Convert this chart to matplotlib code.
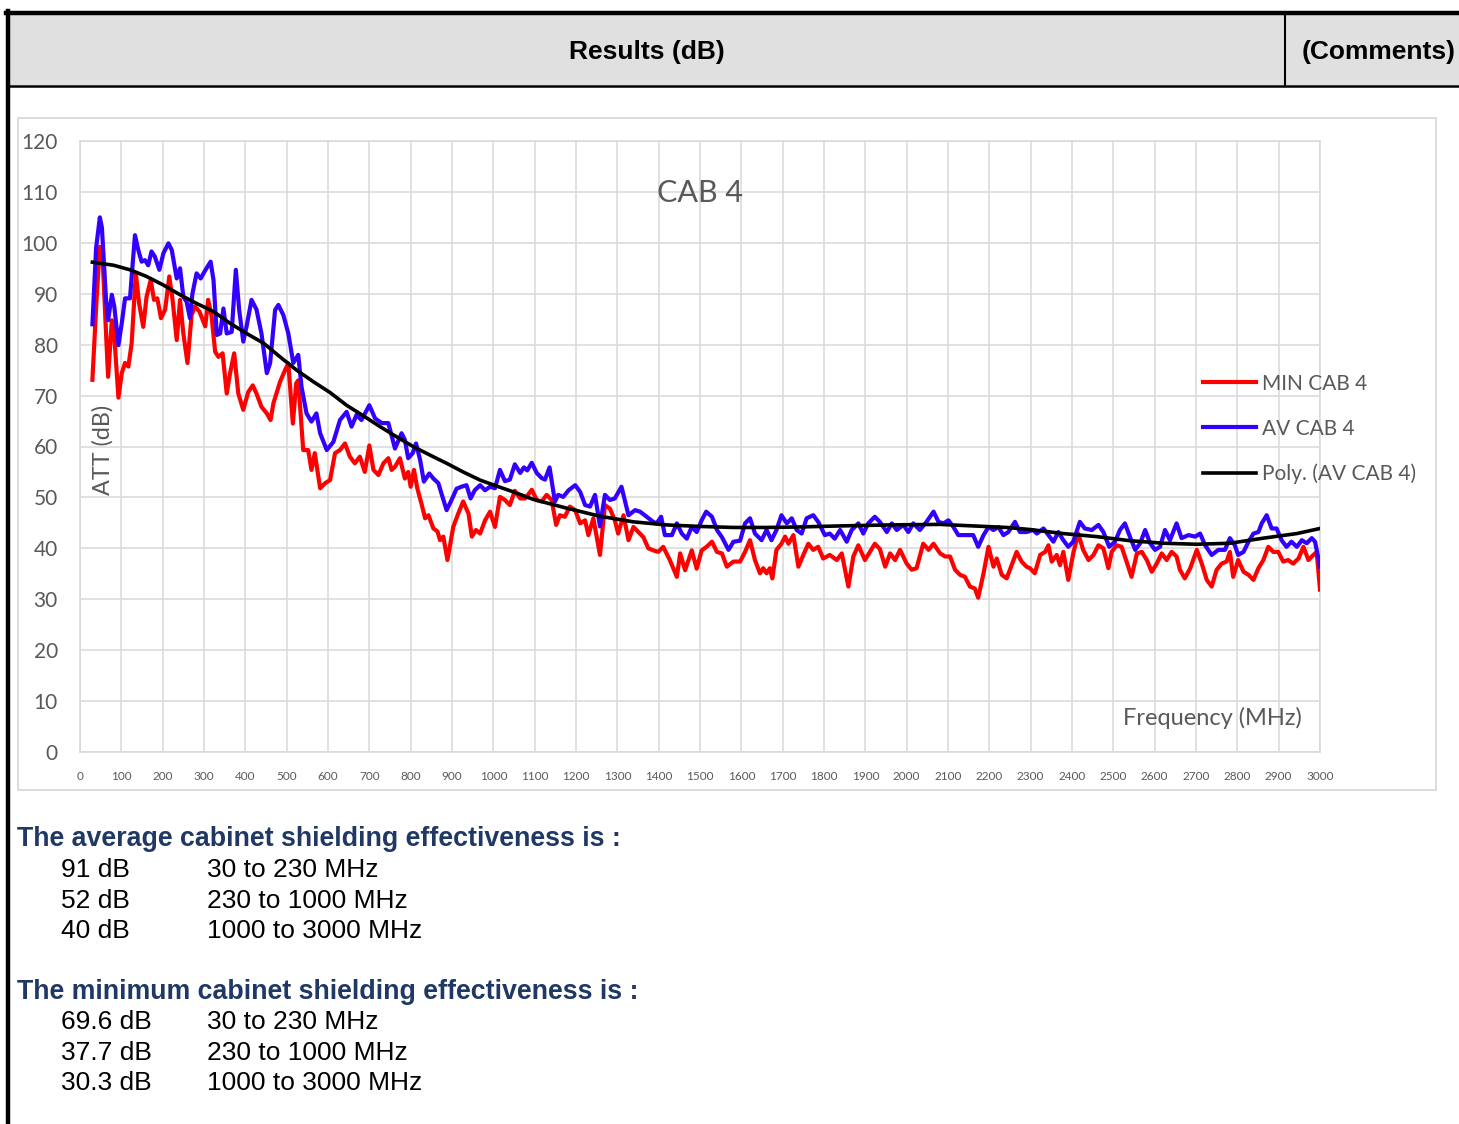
"""CAB 4 shielding effectiveness chart, recreated as a report page fragment."""
import matplotlib
matplotlib.use("Agg")
import matplotlib.pyplot as plt
from matplotlib.lines import Line2D
from matplotlib.patches import Rectangle

W, H = 1459, 1124

# AV CAB 4 (blue) - frequency (MHz) / attenuation (dB)
av_freq = [30, 39, 48, 53, 63, 68, 77, 83, 93, 101, 109, 121, 125, 133, 141, 149, 157, 165, 173, 181,
           192, 202, 214, 222, 234, 242, 250, 258, 266, 272, 282, 292, 303, 316, 323, 331, 339, 347, 355, 367,
           377, 385, 395, 403, 415, 427, 439, 452, 460, 472, 480, 492, 504, 516, 528, 536, 548, 560, 572, 581,
           597, 613, 629, 645, 657, 669, 681, 700, 714, 730, 746, 762, 778, 786, 794, 805, 813, 823, 832, 845,
           855, 867, 877, 887, 899, 911, 923, 935, 945, 955, 968, 980, 992, 1004, 1016, 1028, 1040, 1052, 1065, 1074,
           1082, 1093, 1105, 1117, 1125, 1136, 1149, 1157, 1169, 1182, 1198, 1210, 1222, 1234, 1246, 1258, 1270, 1282, 1294, 1310,
           1327, 1343, 1355, 1371, 1387, 1395, 1406, 1415, 1432, 1444, 1456, 1468, 1480, 1492, 1504, 1515, 1529, 1541, 1553, 1569,
           1581, 1597, 1609, 1621, 1633, 1649, 1661, 1673, 1685, 1697, 1710, 1722, 1734, 1746, 1758, 1774, 1786, 1802, 1814, 1826,
           1839, 1855, 1867, 1883, 1895, 1907, 1923, 1935, 1952, 1964, 1976, 1992, 2004, 2016, 2032, 2048, 2065, 2077, 2089, 2101,
           2113, 2125, 2145, 2161, 2173, 2186, 2198, 2210, 2222, 2234, 2246, 2262, 2274, 2290, 2306, 2315, 2331, 2343, 2355, 2367,
           2379, 2391, 2403, 2419, 2431, 2448, 2464, 2476, 2490, 2504, 2516, 2528, 2540, 2553, 2565, 2577, 2589, 2601, 2613, 2625,
           2637, 2653, 2665, 2682, 2698, 2710, 2722, 2738, 2754, 2770, 2782, 2794, 2802, 2815, 2827, 2839, 2851, 2859, 2871, 2883,
           2895, 2907, 2919, 2931, 2944, 2956, 2968, 2980, 2988, 3000]
av_db = [84.0, 99.0, 105.0, 103.0, 88.8, 84.8, 89.8, 87.5, 79.9, 84.2, 89.1, 89.1, 93.4, 101.5, 98.6, 96.3, 96.6, 95.6, 98.3, 97.3,
         94.7, 98.0, 99.9, 98.6, 93.0, 95.0, 89.4, 88.4, 85.2, 90.0, 94.0, 93.0, 94.6, 96.3, 92.7, 81.9, 82.2, 87.1, 82.2, 82.5,
         94.7, 86.9, 80.6, 83.6, 88.8, 86.9, 82.2, 74.4, 76.4, 86.8, 87.8, 85.8, 82.2, 76.4, 78.0, 71.7, 66.5, 64.9, 66.5, 62.6,
         59.3, 60.9, 65.2, 66.8, 63.9, 66.2, 65.2, 68.1, 65.5, 64.6, 64.6, 59.6, 62.6, 61.3, 57.7, 58.7, 60.6, 57.3, 53.1, 54.7,
         53.7, 52.8, 50.1, 47.5, 49.5, 51.7, 52.1, 52.4, 49.8, 51.4, 52.4, 51.4, 52.1, 51.8, 55.4, 53.2, 53.5, 56.5, 54.8, 55.9,
         55.3, 56.8, 54.8, 53.8, 53.5, 55.9, 49.2, 50.5, 50.1, 51.4, 52.4, 51.1, 48.5, 48.2, 50.5, 44.3, 50.5, 49.5, 49.8, 52.1,
         46.5, 47.5, 47.2, 46.2, 45.2, 44.9, 46.2, 42.6, 42.6, 44.9, 42.9, 41.9, 44.2, 43.2, 45.5, 47.2, 46.2, 43.6, 42.2, 39.7,
         41.3, 41.5, 44.9, 45.9, 42.9, 41.6, 43.6, 41.6, 43.6, 46.5, 44.9, 45.9, 43.6, 42.9, 45.9, 46.5, 45.2, 42.6, 42.9, 41.9,
         43.6, 41.3, 43.6, 44.9, 42.9, 44.9, 46.2, 45.2, 43.2, 44.9, 43.6, 44.6, 43.2, 44.9, 43.6, 45.2, 47.2, 45.2, 44.9, 45.5,
         44.2, 42.6, 42.6, 42.6, 40.3, 42.6, 44.2, 43.6, 44.2, 42.6, 43.2, 45.2, 43.2, 43.2, 43.6, 42.9, 43.9, 42.6, 41.3, 43.2,
         41.6, 40.3, 41.3, 45.2, 43.9, 43.6, 44.6, 43.2, 40.3, 41.3, 43.6, 44.9, 42.3, 39.7, 41.0, 43.6, 41.0, 39.7, 40.3, 43.6,
         41.6, 44.9, 42.0, 42.6, 42.3, 42.9, 40.6, 38.7, 39.7, 39.7, 42.0, 40.6, 38.7, 39.3, 41.3, 42.9, 43.2, 44.9, 46.5, 43.9,
         43.9, 41.6, 40.3, 41.3, 40.3, 41.6, 41.0, 42.0, 41.3, 36.4]

# MIN CAB 4 (red)
min_freq = [30, 40, 48, 55, 63, 68, 77, 83, 93, 101, 109, 117, 125, 135, 143, 153, 161, 171, 179, 187,
            196, 206, 216, 224, 234, 242, 250, 260, 270, 278, 289, 303, 310, 318, 327, 335, 345, 355, 363, 373,
            383, 395, 407, 418, 427, 439, 452, 461, 468, 484, 496, 504, 515, 523, 528, 540, 552, 560, 568, 581,
            593, 605, 617, 629, 641, 653, 665, 677, 689, 700, 710, 722, 734, 746, 754, 762, 774, 786, 794, 800,
            808, 816, 826, 835, 843, 855, 865, 871, 879, 889, 896, 903, 915, 927, 940, 948, 958, 968, 980, 992,
            1004, 1016, 1028, 1040, 1052, 1065, 1077, 1093, 1105, 1117, 1129, 1141, 1152, 1161, 1173, 1185, 1198, 1210, 1222, 1230,
            1242, 1258, 1270, 1282, 1294, 1302, 1315, 1327, 1339, 1351, 1363, 1375, 1387, 1399, 1411, 1427, 1444, 1452, 1464, 1480,
            1492, 1504, 1516, 1529, 1541, 1553, 1565, 1581, 1597, 1609, 1621, 1633, 1645, 1653, 1661, 1669, 1675, 1685, 1697, 1706,
            1714, 1726, 1738, 1750, 1762, 1774, 1786, 1798, 1814, 1831, 1843, 1859, 1871, 1883, 1899, 1911, 1923, 1935, 1948, 1960,
            1972, 1984, 2000, 2012, 2024, 2040, 2053, 2065, 2081, 2093, 2105, 2117, 2129, 2141, 2153, 2165, 2173, 2186, 2198, 2210,
            2218, 2230, 2242, 2254, 2266, 2278, 2290, 2298, 2310, 2323, 2335, 2343, 2351, 2363, 2371, 2379, 2391, 2403, 2415, 2427,
            2440, 2452, 2464, 2476, 2488, 2496, 2508, 2520, 2532, 2544, 2557, 2569, 2581, 2593, 2605, 2617, 2629, 2641, 2653, 2661,
            2673, 2686, 2702, 2714, 2726, 2738, 2750, 2762, 2774, 2782, 2790, 2802, 2815, 2827, 2839, 2851, 2863, 2875, 2887, 2899,
            2911, 2923, 2935, 2948, 2960, 2972, 2984, 2992, 3000]
min_db = [73.1, 88.8, 99.2, 96.6, 82.2, 73.7, 84.8, 81.6, 69.6, 74.4, 76.4, 75.7, 80.3, 94.0, 88.1, 83.5, 89.4, 92.7, 88.8, 89.1,
          85.2, 86.9, 93.4, 88.8, 80.9, 88.8, 82.2, 76.4, 85.8, 87.5, 86.5, 83.6, 88.8, 85.8, 78.6, 77.6, 78.3, 70.4, 74.4, 78.3,
          70.4, 67.2, 70.7, 72.0, 70.4, 67.8, 66.5, 65.2, 68.5, 72.7, 75.0, 76.3, 64.5, 72.4, 73.0, 59.3, 59.3, 55.4, 58.7, 51.8,
          52.8, 53.4, 58.7, 59.3, 60.6, 58.0, 56.7, 58.0, 55.0, 60.2, 55.4, 54.4, 56.7, 57.7, 55.4, 56.0, 57.7, 53.7, 55.0, 52.1,
          55.4, 51.8, 48.8, 45.9, 46.5, 43.9, 43.3, 41.6, 42.3, 37.7, 41.0, 44.2, 46.8, 49.2, 46.8, 42.3, 43.6, 42.9, 45.5, 47.2,
          44.2, 50.1, 49.5, 48.5, 51.3, 49.8, 49.8, 51.5, 49.5, 49.2, 50.5, 49.5, 44.6, 46.5, 46.2, 48.2, 47.5, 44.9, 45.5, 42.6,
          45.9, 38.7, 48.5, 47.8, 45.5, 42.9, 46.5, 41.6, 44.2, 43.2, 42.2, 40.0, 39.6, 39.3, 40.3, 37.7, 34.4, 39.0, 35.7, 39.6,
          36.0, 39.6, 40.3, 41.3, 39.3, 39.0, 36.4, 37.4, 37.4, 39.3, 41.6, 37.7, 35.1, 36.1, 35.1, 36.1, 34.1, 39.7, 40.9, 42.3,
          40.9, 42.6, 36.4, 38.7, 40.9, 39.7, 40.3, 38.0, 38.7, 37.7, 39.0, 32.5, 38.4, 40.6, 37.7, 39.3, 40.9, 39.9, 36.4, 39.0,
          37.7, 39.7, 37.0, 35.8, 36.1, 40.9, 39.7, 40.9, 39.0, 38.4, 38.4, 35.8, 34.8, 34.4, 32.5, 32.1, 30.3, 35.1, 40.3, 36.4,
          38.0, 34.8, 34.1, 36.7, 39.3, 37.4, 36.4, 36.1, 35.1, 38.7, 39.3, 40.6, 37.4, 38.7, 36.7, 39.3, 33.8, 39.0, 42.9, 39.7,
          37.7, 38.7, 40.6, 40.0, 36.1, 39.3, 40.6, 40.3, 37.4, 34.4, 39.0, 39.3, 37.7, 35.4, 37.0, 39.0, 37.7, 39.3, 38.4, 35.8,
          34.1, 36.1, 39.7, 37.0, 33.8, 32.5, 35.8, 37.0, 37.4, 39.3, 34.4, 37.7, 35.4, 34.8, 33.8, 36.1, 37.7, 40.3, 39.3, 39.3,
          37.4, 37.7, 37.0, 38.0, 40.3, 37.7, 38.7, 39.3, 31.9]

# Poly. (AV CAB 4) trend line
poly_freq = [30, 81, 121, 161, 202, 242, 282, 323, 363, 403, 444, 484, 524, 565, 605, 645, 686, 726, 766, 806,
             847, 887, 927, 968, 1016, 1048, 1097, 1177, 1258, 1339, 1419, 1500, 1581, 1661, 1742, 1839, 1960, 2081, 2161, 2242,
             2298, 2379, 2460, 2540, 2621, 2702, 2782, 2863, 2944, 3000]
poly_db = [96.2, 95.6, 94.7, 93.4, 91.7, 89.8, 88.1, 86.5, 84.2, 82.2, 80.3, 77.6, 75.0, 72.7, 70.6, 68.1, 66.0, 63.9, 61.9, 60.0,
           58.3, 56.7, 55.0, 53.4, 52.0, 51.1, 49.6, 47.9, 46.3, 45.2, 44.6, 44.3, 44.1, 44.1, 44.2, 44.4, 44.6, 44.7, 44.4, 44.1,
           43.7, 42.9, 42.3, 41.5, 41.0, 40.8, 41.0, 42.0, 42.9, 43.9]

series_labels = ["MIN CAB 4", "AV CAB 4", "Poly. (AV CAB 4)"]
x_ticks = list(range(0, 3001, 100))
y_ticks = list(range(0, 121, 10))

avg_rows = [("91 dB", "30 to 230 MHz"), ("52 dB", "230 to 1000 MHz"), ("40 dB", "1000 to 3000 MHz")]
min_rows = [("69.6 dB", "30 to 230 MHz"), ("37.7 dB", "230 to 1000 MHz"), ("30.3 dB", "1000 to 3000 MHz")]

RED = "#ff0000"
BLUE = "#3300ff"
GRID = "#d9d9d9"
TXT = "#595959"
NAVY = "#1f3864"
CHART_FONT = ["Lato", "DejaVu Sans"]
DOC_FONT = ["Liberation Sans", "DejaVu Sans"]


def fx(x):
    return x / W


def fy(y):
    return 1 - y / H


fig = plt.figure(figsize=(W / 100, H / 100), dpi=100)
fig.patch.set_facecolor("white")

# report table header
fig.add_artist(Rectangle((fx(10), fy(85)), fx(1459 - 10), 71 / H, transform=fig.transFigure,
                         facecolor="#e0e0e0", edgecolor="none", zorder=0))
fig.add_artist(Line2D([fx(6), fx(1459)], [fy(12.5), fy(12.5)], color="black", lw=3.2))
fig.add_artist(Line2D([fx(8), fx(8)], [fy(11), fy(1124)], color="black", lw=3.2))
fig.add_artist(Line2D([fx(8), fx(1459)], [fy(86), fy(86)], color="black", lw=1.8))
fig.add_artist(Line2D([fx(1285), fx(1285)], [fy(14), fy(86)], color="black", lw=1.5))
fig.text(fx(647), fy(51.5), "Results (dB)", ha="center", va="center", fontsize=19,
         fontweight="bold", family=DOC_FONT)
fig.text(fx(1302), fy(51.5), "(Comments)", ha="left", va="center", fontsize=19,
         fontweight="bold", family=DOC_FONT)

# chart area box
fig.add_artist(Rectangle((fx(18), fy(790)), fx(1436 - 18), (790 - 118) / H, transform=fig.transFigure,
                         facecolor="white", edgecolor=GRID, lw=1.3, zorder=0))

ax = fig.add_axes([fx(80), fy(752), fx(1240), 611 / H])
ax.set_facecolor("none")
ax.plot(min_freq, min_db, color=RED, lw=3.0, label=series_labels[0], zorder=3)
ax.plot(av_freq, av_db, color=BLUE, lw=3.0, label=series_labels[1], zorder=4)
ax.plot(poly_freq, poly_db, color="black", lw=2.6, label=series_labels[2], zorder=5)

ax.set_xlim(0, 3000)
ax.set_ylim(0, 120)
ax.set_xticks(x_ticks)
ax.set_yticks(y_ticks)
ax.set_axisbelow(True)
ax.grid(True, color=GRID, lw=1.1)
for s in ax.spines.values():
    s.set_color(GRID)
    s.set_linewidth(1.1)
ax.tick_params(axis="both", length=0, colors=TXT)
ax.tick_params(axis="y", labelsize=15, pad=16)
ax.tick_params(axis="x", labelsize=8.5, pad=14)
for lab in ax.get_xticklabels() + ax.get_yticklabels():
    lab.set_family(CHART_FONT)

ax.text(0.5, 0.915, "CAB 4", transform=ax.transAxes, ha="center", va="center",
        fontsize=22, color=TXT, family=CHART_FONT)
ax.text(0.0185, 0.494, "ATT (dB)", transform=ax.transAxes, ha="center", va="center",
        rotation=90, fontsize=16.8, color=TXT, family=CHART_FONT)
ax.text(0.913, 0.0556, "Frequency (MHz)", transform=ax.transAxes, ha="center", va="center",
        fontsize=17, color=TXT, family=CHART_FONT)

leg = ax.legend(loc="center left", bbox_to_anchor=(fx(1203), fy(429)), bbox_transform=fig.transFigure,
                frameon=False, borderpad=0, borderaxespad=0, handlelength=2.55, handletextpad=0.3,
                labelspacing=1.2, prop={"family": CHART_FONT, "size": 15})
for t in leg.get_texts():
    t.set_color(TXT)

# summary text under the chart
fig.text(fx(17), fy(846), "The average cabinet shielding effectiveness is :", ha="left", va="baseline",
         fontsize=19.3, fontweight="bold", color=NAVY, family=DOC_FONT)
for i, (val, band) in enumerate(avg_rows):
    y = 877 + i * 30.5
    fig.text(fx(61), fy(y), val, ha="left", va="baseline", fontsize=19, family=DOC_FONT)
    fig.text(fx(207), fy(y), band, ha="left", va="baseline", fontsize=19, family=DOC_FONT)

fig.text(fx(17), fy(999), "The minimum cabinet shielding effectiveness is :", ha="left", va="baseline",
         fontsize=19.3, fontweight="bold", color=NAVY, family=DOC_FONT)
for i, (val, band) in enumerate(min_rows):
    y = 1029 + i * 30.5
    fig.text(fx(61), fy(y), val, ha="left", va="baseline", fontsize=19, family=DOC_FONT)
    fig.text(fx(207), fy(y), band, ha="left", va="baseline", fontsize=19, family=DOC_FONT)

fig.savefig("out.png", dpi=100)
